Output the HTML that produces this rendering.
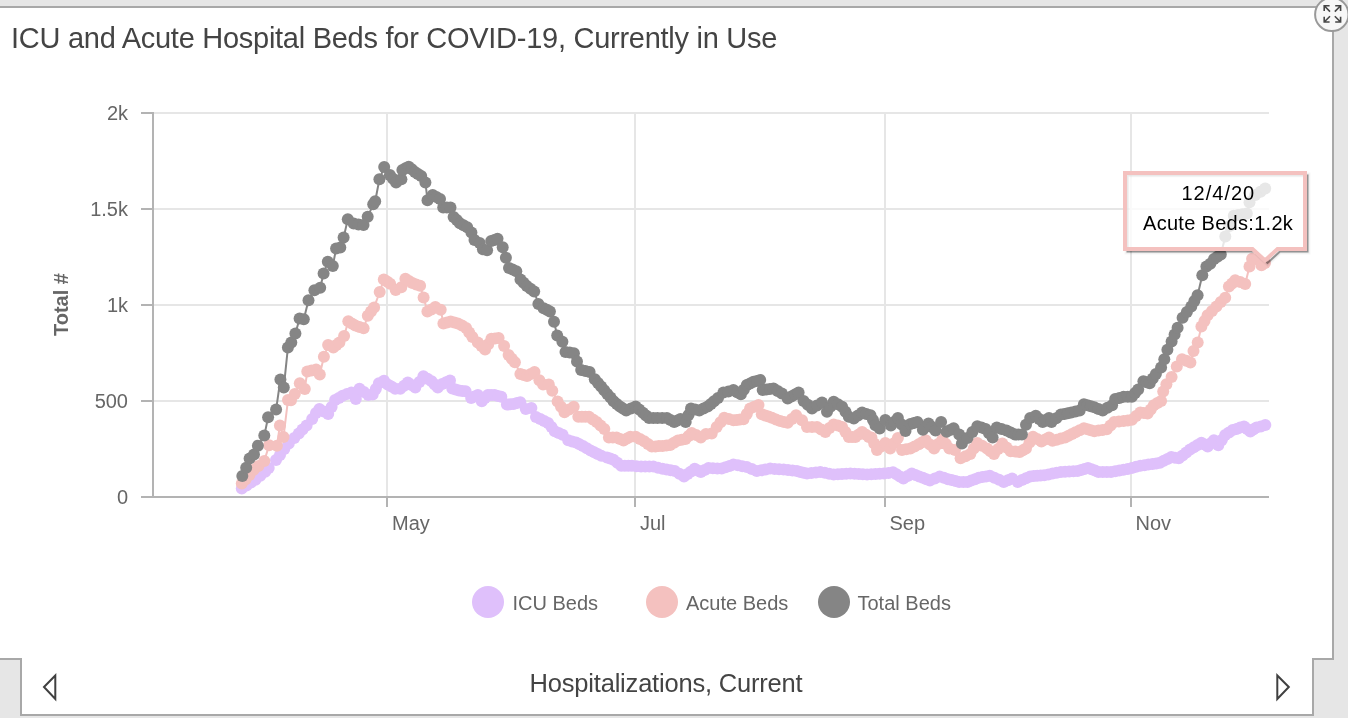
<!DOCTYPE html>
<html><head><meta charset="utf-8">
<style>
html,body{margin:0;padding:0;}
body{width:1348px;height:718px;overflow:hidden;background:#e6e6e6;position:relative;font-family:"Liberation Sans",sans-serif;}
#card{position:absolute;left:-2px;top:6px;width:1336px;height:654px;box-sizing:border-box;border:2px solid #a8a8a8;background:#fff;}
#foot{position:absolute;left:20px;top:658px;width:1294px;height:58px;box-sizing:border-box;border:2px solid #a8a8a8;border-top:none;background:#fff;}
#title{position:absolute;left:10.5px;top:18px;font-size:29px;letter-spacing:-0.27px;color:#444;white-space:nowrap;line-height:40px;}
#ftext{position:absolute;left:-2px;width:1336px;text-align:center;top:667px;font-size:25.5px;letter-spacing:-0.2px;color:#444;line-height:32px;white-space:nowrap;}
svg{position:absolute;left:0;top:0;}
#title,#ftext,svg{will-change:transform;}
</style></head><body>
<div id="card"></div>
<div id="foot"></div>
<div id="title">ICU and Acute Hospital Beds for COVID-19, Currently in Use</div>
<div id="ftext">Hospitalizations, Current</div>
<svg width="1348" height="718" viewBox="0 0 1348 718">
<g stroke="#e6e6e6" stroke-width="2"><line x1="153.0" y1="113.0" x2="1269.0" y2="113.0"/><line x1="153.0" y1="209.0" x2="1269.0" y2="209.0"/><line x1="153.0" y1="305.0" x2="1269.0" y2="305.0"/><line x1="153.0" y1="401.0" x2="1269.0" y2="401.0"/><line x1="387.0" y1="112" x2="387.0" y2="497.0"/><line x1="635.0" y1="112" x2="635.0" y2="497.0"/><line x1="885.0" y1="112" x2="885.0" y2="497.0"/><line x1="1131.0" y1="112" x2="1131.0" y2="497.0"/></g>
<g stroke="#b3b3b3" stroke-width="2"><line x1="153.0" y1="112" x2="153.0" y2="498.0"/><line x1="141" y1="497.0" x2="1269.0" y2="497.0"/><line x1="141" y1="113.0" x2="153.0" y2="113.0"/><line x1="141" y1="209.0" x2="153.0" y2="209.0"/><line x1="141" y1="305.0" x2="153.0" y2="305.0"/><line x1="141" y1="401.0" x2="153.0" y2="401.0"/><line x1="387.0" y1="497.0" x2="387.0" y2="507"/><line x1="635.0" y1="497.0" x2="635.0" y2="507"/><line x1="885.0" y1="497.0" x2="885.0" y2="507"/><line x1="1131.0" y1="497.0" x2="1131.0" y2="507"/></g>
<g font-family="Liberation Sans, sans-serif" font-size="20" fill="#666666"><text x="128" y="120.2" text-anchor="end">2k</text><text x="128" y="216.2" text-anchor="end">1.5k</text><text x="128" y="312.2" text-anchor="end">1k</text><text x="128" y="408.2" text-anchor="end">500</text><text x="128" y="504.2" text-anchor="end">0</text><text x="392" y="529.8">May</text><text x="640" y="529.8">Jul</text><text x="889.5" y="529.8">Sep</text><text x="1135.5" y="529.8">Nov</text></g>
<text transform="translate(67.8,304.5) rotate(-90)" text-anchor="middle" font-family="Liberation Sans, sans-serif" font-size="20" font-weight="bold" fill="#666666">Total #</text>

<g font-family="Liberation Sans, sans-serif" font-size="20" fill="#666666">
<circle cx="488" cy="602" r="16" fill="#dfc0fb"/>
<text x="512.5" y="609.9">ICU Beds</text>
<circle cx="662" cy="602" r="16" fill="#f4c1bf"/>
<text x="686" y="609.9">Acute Beds</text>
<circle cx="834" cy="602" r="16" fill="#858585"/>
<text x="857.5" y="609.9">Total Beds</text>
</g>
<path d="M241.8 488.5 L246.5 485.5 L251.0 482.5 L255.5 479.8 L260.3 475.8 L265.2 471.7 L268.7 468.0 L276.0 460.0 L280.0 455.0 L284.3 449.1 L288.8 443.5 L294.3 437.9 L298.8 433.5 L302.5 429.5 L306.6 425.6 L312.2 419.0 L316.0 413.0 L319.4 408.9 L323.8 411.4 L328.2 413.9 L331.6 407.0 L335.1 400.1 L338.9 397.9 L342.6 395.7 L347.0 394.1 L351.4 392.6 L355.8 398.9 L359.5 388.8 L363.9 392.0 L368.3 395.1 L372.7 394.5 L375.8 388.9 L378.9 383.2 L384.0 380.7 L387.7 384.5 L391.4 386.6 L395.2 388.8 L400.3 388.8 L404.1 385.7 L407.8 382.6 L411.6 385.1 L415.3 387.6 L419.4 382.0 L423.4 376.3 L427.5 378.8 L431.6 381.3 L434.7 384.5 L437.8 387.6 L442.2 383.9 L446.1 382.2 L450.0 380.6 L452.3 388.4 L455.6 389.5 L459.0 390.6 L462.3 390.9 L465.6 391.2 L471.2 397.9 L474.5 396.5 L477.9 395.1 L481.8 401.2 L484.9 398.1 L487.9 395.1 L491.2 395.1 L494.6 395.1 L498.0 396.0 L501.3 396.8 L506.9 404.6 L510.2 404.3 L513.6 404.0 L517.0 403.1 L520.3 402.3 L525.8 409.0 L531.4 408.0 L536.0 417.0 L540.3 419.0 L544.2 420.9 L548.1 422.9 L551.5 427.1 L554.8 431.3 L558.7 433.0 L562.6 434.7 L568.2 440.2 L572.1 441.4 L576.0 442.5 L579.5 444.2 L583.0 446.0 L586.8 448.2 L590.6 450.5 L594.2 452.3 L597.7 454.0 L601.3 455.8 L607.0 457.5 L610.2 458.6 L613.5 459.7 L617.4 462.8 L621.2 465.8 L624.8 465.8 L628.3 465.8 L631.9 465.8 L636.5 466.2 L641.1 466.6 L645.2 466.6 L649.3 466.6 L653.4 466.6 L658.0 467.7 L662.5 468.8 L666.6 469.6 L670.7 470.3 L674.8 471.1 L679.4 473.8 L684.0 476.5 L687.6 473.9 L691.1 471.4 L694.7 468.8 L697.8 470.4 L700.8 471.9 L704.6 470.0 L708.5 468.1 L712.9 468.3 L717.3 468.4 L721.7 468.6 L725.6 467.2 L729.5 465.9 L733.4 464.5 L737.9 465.3 L742.3 466.2 L746.8 467.0 L751.8 469.1 L756.8 471.1 L761.3 470.3 L765.7 469.4 L770.2 468.6 L774.7 468.9 L779.1 469.2 L783.6 469.5 L788.0 470.0 L792.5 470.6 L796.9 471.1 L800.3 471.9 L803.6 472.8 L807.0 473.6 L811.4 473.1 L815.9 472.5 L820.3 472.0 L824.8 472.8 L829.2 473.7 L833.7 474.5 L837.9 474.3 L842.0 474.1 L846.2 473.8 L850.4 473.6 L854.6 473.8 L858.8 474.1 L862.9 474.3 L867.1 474.5 L871.3 474.3 L875.5 474.1 L879.7 473.8 L883.9 473.6 L888.5 472.9 L893.0 472.2 L896.5 474.3 L899.9 476.4 L903.4 478.5 L907.6 476.1 L911.8 473.6 L915.5 475.0 L919.2 476.4 L922.9 477.8 L926.4 479.2 L929.9 480.6 L934.8 478.5 L939.7 476.4 L943.9 477.8 L948.0 479.2 L951.7 480.1 L955.5 481.0 L959.2 481.9 L963.4 481.9 L967.5 481.9 L971.2 480.5 L975.0 479.2 L978.7 477.8 L982.4 477.1 L986.1 476.4 L989.8 475.7 L994.4 477.8 L999.1 479.8 L1003.7 481.9 L1007.9 480.2 L1012.1 478.5 L1017.7 481.9 L1021.9 480.1 L1026.0 478.2 L1030.2 476.4 L1033.7 476.0 L1037.2 475.7 L1040.7 475.4 L1044.2 475.2 L1048.4 474.4 L1052.6 473.6 L1056.7 472.8 L1060.9 472.0 L1065.1 471.8 L1069.2 471.5 L1073.4 471.2 L1077.6 471.0 L1081.1 470.0 L1084.5 468.9 L1088.0 467.9 L1091.5 469.3 L1095.0 470.6 L1098.5 472.0 L1102.7 472.0 L1106.8 472.0 L1111.0 472.0 L1115.2 471.2 L1119.3 470.4 L1123.5 469.7 L1127.7 468.9 L1131.9 467.9 L1136.1 466.8 L1140.3 465.8 L1144.4 465.2 L1148.4 464.6 L1152.5 464.0 L1156.2 463.4 L1160.0 462.7 L1163.8 460.8 L1167.5 459.0 L1171.3 457.1 L1175.0 457.7 L1178.8 458.3 L1182.6 455.4 L1186.3 452.5 L1190.1 449.6 L1193.9 447.3 L1197.6 445.0 L1201.4 442.7 L1204.6 444.5 L1207.7 446.4 L1210.8 443.3 L1213.9 440.2 L1218.3 445.2 L1221.8 440.1 L1225.2 435.1 L1229.0 432.6 L1232.7 430.1 L1236.5 428.9 L1240.2 427.6 L1244.0 426.4 L1247.2 428.9 L1250.3 431.4 L1253.4 429.5 L1256.5 427.6 L1260.9 426.4 L1265.3 425.1" fill="none" stroke="#dfc0fb" stroke-width="2" stroke-linejoin="round"/>
<g fill="#dfc0fb">
<circle cx="241.8" cy="488.5" r="6.0"/>
<circle cx="246.5" cy="485.5" r="6.0"/>
<circle cx="251.0" cy="482.5" r="6.0"/>
<circle cx="255.5" cy="479.8" r="6.0"/>
<circle cx="260.3" cy="475.8" r="6.0"/>
<circle cx="265.2" cy="471.7" r="6.0"/>
<circle cx="268.7" cy="468.0" r="6.0"/>
<circle cx="276.0" cy="460.0" r="6.0"/>
<circle cx="280.0" cy="455.0" r="6.0"/>
<circle cx="284.3" cy="449.1" r="6.0"/>
<circle cx="288.8" cy="443.5" r="6.0"/>
<circle cx="294.3" cy="437.9" r="6.0"/>
<circle cx="298.8" cy="433.5" r="6.0"/>
<circle cx="302.5" cy="429.5" r="6.0"/>
<circle cx="306.6" cy="425.6" r="6.0"/>
<circle cx="312.2" cy="419.0" r="6.0"/>
<circle cx="316.0" cy="413.0" r="6.0"/>
<circle cx="319.4" cy="408.9" r="6.0"/>
<circle cx="323.8" cy="411.4" r="6.0"/>
<circle cx="328.2" cy="413.9" r="6.0"/>
<circle cx="331.6" cy="407.0" r="6.0"/>
<circle cx="335.1" cy="400.1" r="6.0"/>
<circle cx="338.9" cy="397.9" r="6.0"/>
<circle cx="342.6" cy="395.7" r="6.0"/>
<circle cx="347.0" cy="394.1" r="6.0"/>
<circle cx="351.4" cy="392.6" r="6.0"/>
<circle cx="355.8" cy="398.9" r="6.0"/>
<circle cx="359.5" cy="388.8" r="6.0"/>
<circle cx="363.9" cy="392.0" r="6.0"/>
<circle cx="368.3" cy="395.1" r="6.0"/>
<circle cx="372.7" cy="394.5" r="6.0"/>
<circle cx="375.8" cy="388.9" r="6.0"/>
<circle cx="378.9" cy="383.2" r="6.0"/>
<circle cx="384.0" cy="380.7" r="6.0"/>
<circle cx="387.7" cy="384.5" r="6.0"/>
<circle cx="391.4" cy="386.6" r="6.0"/>
<circle cx="395.2" cy="388.8" r="6.0"/>
<circle cx="400.3" cy="388.8" r="6.0"/>
<circle cx="404.1" cy="385.7" r="6.0"/>
<circle cx="407.8" cy="382.6" r="6.0"/>
<circle cx="411.6" cy="385.1" r="6.0"/>
<circle cx="415.3" cy="387.6" r="6.0"/>
<circle cx="419.4" cy="382.0" r="6.0"/>
<circle cx="423.4" cy="376.3" r="6.0"/>
<circle cx="427.5" cy="378.8" r="6.0"/>
<circle cx="431.6" cy="381.3" r="6.0"/>
<circle cx="434.7" cy="384.5" r="6.0"/>
<circle cx="437.8" cy="387.6" r="6.0"/>
<circle cx="442.2" cy="383.9" r="6.0"/>
<circle cx="446.1" cy="382.2" r="6.0"/>
<circle cx="450.0" cy="380.6" r="6.0"/>
<circle cx="452.3" cy="388.4" r="6.0"/>
<circle cx="455.6" cy="389.5" r="6.0"/>
<circle cx="459.0" cy="390.6" r="6.0"/>
<circle cx="462.3" cy="390.9" r="6.0"/>
<circle cx="465.6" cy="391.2" r="6.0"/>
<circle cx="471.2" cy="397.9" r="6.0"/>
<circle cx="474.5" cy="396.5" r="6.0"/>
<circle cx="477.9" cy="395.1" r="6.0"/>
<circle cx="481.8" cy="401.2" r="6.0"/>
<circle cx="484.9" cy="398.1" r="6.0"/>
<circle cx="487.9" cy="395.1" r="6.0"/>
<circle cx="491.2" cy="395.1" r="6.0"/>
<circle cx="494.6" cy="395.1" r="6.0"/>
<circle cx="498.0" cy="396.0" r="6.0"/>
<circle cx="501.3" cy="396.8" r="6.0"/>
<circle cx="506.9" cy="404.6" r="6.0"/>
<circle cx="510.2" cy="404.3" r="6.0"/>
<circle cx="513.6" cy="404.0" r="6.0"/>
<circle cx="517.0" cy="403.1" r="6.0"/>
<circle cx="520.3" cy="402.3" r="6.0"/>
<circle cx="525.8" cy="409.0" r="6.0"/>
<circle cx="531.4" cy="408.0" r="6.0"/>
<circle cx="536.0" cy="417.0" r="6.0"/>
<circle cx="540.3" cy="419.0" r="6.0"/>
<circle cx="544.2" cy="420.9" r="6.0"/>
<circle cx="548.1" cy="422.9" r="6.0"/>
<circle cx="551.5" cy="427.1" r="6.0"/>
<circle cx="554.8" cy="431.3" r="6.0"/>
<circle cx="558.7" cy="433.0" r="6.0"/>
<circle cx="562.6" cy="434.7" r="6.0"/>
<circle cx="568.2" cy="440.2" r="6.0"/>
<circle cx="572.1" cy="441.4" r="6.0"/>
<circle cx="576.0" cy="442.5" r="6.0"/>
<circle cx="579.5" cy="444.2" r="6.0"/>
<circle cx="583.0" cy="446.0" r="6.0"/>
<circle cx="586.8" cy="448.2" r="6.0"/>
<circle cx="590.6" cy="450.5" r="6.0"/>
<circle cx="594.2" cy="452.3" r="6.0"/>
<circle cx="597.7" cy="454.0" r="6.0"/>
<circle cx="601.3" cy="455.8" r="6.0"/>
<circle cx="607.0" cy="457.5" r="6.0"/>
<circle cx="610.2" cy="458.6" r="6.0"/>
<circle cx="613.5" cy="459.7" r="6.0"/>
<circle cx="617.4" cy="462.8" r="6.0"/>
<circle cx="621.2" cy="465.8" r="6.0"/>
<circle cx="624.8" cy="465.8" r="6.0"/>
<circle cx="628.3" cy="465.8" r="6.0"/>
<circle cx="631.9" cy="465.8" r="6.0"/>
<circle cx="636.5" cy="466.2" r="6.0"/>
<circle cx="641.1" cy="466.6" r="6.0"/>
<circle cx="645.2" cy="466.6" r="6.0"/>
<circle cx="649.3" cy="466.6" r="6.0"/>
<circle cx="653.4" cy="466.6" r="6.0"/>
<circle cx="658.0" cy="467.7" r="6.0"/>
<circle cx="662.5" cy="468.8" r="6.0"/>
<circle cx="666.6" cy="469.6" r="6.0"/>
<circle cx="670.7" cy="470.3" r="6.0"/>
<circle cx="674.8" cy="471.1" r="6.0"/>
<circle cx="679.4" cy="473.8" r="6.0"/>
<circle cx="684.0" cy="476.5" r="6.0"/>
<circle cx="687.6" cy="473.9" r="6.0"/>
<circle cx="691.1" cy="471.4" r="6.0"/>
<circle cx="694.7" cy="468.8" r="6.0"/>
<circle cx="697.8" cy="470.4" r="6.0"/>
<circle cx="700.8" cy="471.9" r="6.0"/>
<circle cx="704.6" cy="470.0" r="6.0"/>
<circle cx="708.5" cy="468.1" r="6.0"/>
<circle cx="712.9" cy="468.3" r="6.0"/>
<circle cx="717.3" cy="468.4" r="6.0"/>
<circle cx="721.7" cy="468.6" r="6.0"/>
<circle cx="725.6" cy="467.2" r="6.0"/>
<circle cx="729.5" cy="465.9" r="6.0"/>
<circle cx="733.4" cy="464.5" r="6.0"/>
<circle cx="737.9" cy="465.3" r="6.0"/>
<circle cx="742.3" cy="466.2" r="6.0"/>
<circle cx="746.8" cy="467.0" r="6.0"/>
<circle cx="751.8" cy="469.1" r="6.0"/>
<circle cx="756.8" cy="471.1" r="6.0"/>
<circle cx="761.3" cy="470.3" r="6.0"/>
<circle cx="765.7" cy="469.4" r="6.0"/>
<circle cx="770.2" cy="468.6" r="6.0"/>
<circle cx="774.7" cy="468.9" r="6.0"/>
<circle cx="779.1" cy="469.2" r="6.0"/>
<circle cx="783.6" cy="469.5" r="6.0"/>
<circle cx="788.0" cy="470.0" r="6.0"/>
<circle cx="792.5" cy="470.6" r="6.0"/>
<circle cx="796.9" cy="471.1" r="6.0"/>
<circle cx="800.3" cy="471.9" r="6.0"/>
<circle cx="803.6" cy="472.8" r="6.0"/>
<circle cx="807.0" cy="473.6" r="6.0"/>
<circle cx="811.4" cy="473.1" r="6.0"/>
<circle cx="815.9" cy="472.5" r="6.0"/>
<circle cx="820.3" cy="472.0" r="6.0"/>
<circle cx="824.8" cy="472.8" r="6.0"/>
<circle cx="829.2" cy="473.7" r="6.0"/>
<circle cx="833.7" cy="474.5" r="6.0"/>
<circle cx="837.9" cy="474.3" r="6.0"/>
<circle cx="842.0" cy="474.1" r="6.0"/>
<circle cx="846.2" cy="473.8" r="6.0"/>
<circle cx="850.4" cy="473.6" r="6.0"/>
<circle cx="854.6" cy="473.8" r="6.0"/>
<circle cx="858.8" cy="474.1" r="6.0"/>
<circle cx="862.9" cy="474.3" r="6.0"/>
<circle cx="867.1" cy="474.5" r="6.0"/>
<circle cx="871.3" cy="474.3" r="6.0"/>
<circle cx="875.5" cy="474.1" r="6.0"/>
<circle cx="879.7" cy="473.8" r="6.0"/>
<circle cx="883.9" cy="473.6" r="6.0"/>
<circle cx="888.5" cy="472.9" r="6.0"/>
<circle cx="893.0" cy="472.2" r="6.0"/>
<circle cx="896.5" cy="474.3" r="6.0"/>
<circle cx="899.9" cy="476.4" r="6.0"/>
<circle cx="903.4" cy="478.5" r="6.0"/>
<circle cx="907.6" cy="476.1" r="6.0"/>
<circle cx="911.8" cy="473.6" r="6.0"/>
<circle cx="915.5" cy="475.0" r="6.0"/>
<circle cx="919.2" cy="476.4" r="6.0"/>
<circle cx="922.9" cy="477.8" r="6.0"/>
<circle cx="926.4" cy="479.2" r="6.0"/>
<circle cx="929.9" cy="480.6" r="6.0"/>
<circle cx="934.8" cy="478.5" r="6.0"/>
<circle cx="939.7" cy="476.4" r="6.0"/>
<circle cx="943.9" cy="477.8" r="6.0"/>
<circle cx="948.0" cy="479.2" r="6.0"/>
<circle cx="951.7" cy="480.1" r="6.0"/>
<circle cx="955.5" cy="481.0" r="6.0"/>
<circle cx="959.2" cy="481.9" r="6.0"/>
<circle cx="963.4" cy="481.9" r="6.0"/>
<circle cx="967.5" cy="481.9" r="6.0"/>
<circle cx="971.2" cy="480.5" r="6.0"/>
<circle cx="975.0" cy="479.2" r="6.0"/>
<circle cx="978.7" cy="477.8" r="6.0"/>
<circle cx="982.4" cy="477.1" r="6.0"/>
<circle cx="986.1" cy="476.4" r="6.0"/>
<circle cx="989.8" cy="475.7" r="6.0"/>
<circle cx="994.4" cy="477.8" r="6.0"/>
<circle cx="999.1" cy="479.8" r="6.0"/>
<circle cx="1003.7" cy="481.9" r="6.0"/>
<circle cx="1007.9" cy="480.2" r="6.0"/>
<circle cx="1012.1" cy="478.5" r="6.0"/>
<circle cx="1017.7" cy="481.9" r="6.0"/>
<circle cx="1021.9" cy="480.1" r="6.0"/>
<circle cx="1026.0" cy="478.2" r="6.0"/>
<circle cx="1030.2" cy="476.4" r="6.0"/>
<circle cx="1033.7" cy="476.0" r="6.0"/>
<circle cx="1037.2" cy="475.7" r="6.0"/>
<circle cx="1040.7" cy="475.4" r="6.0"/>
<circle cx="1044.2" cy="475.2" r="6.0"/>
<circle cx="1048.4" cy="474.4" r="6.0"/>
<circle cx="1052.6" cy="473.6" r="6.0"/>
<circle cx="1056.7" cy="472.8" r="6.0"/>
<circle cx="1060.9" cy="472.0" r="6.0"/>
<circle cx="1065.1" cy="471.8" r="6.0"/>
<circle cx="1069.2" cy="471.5" r="6.0"/>
<circle cx="1073.4" cy="471.2" r="6.0"/>
<circle cx="1077.6" cy="471.0" r="6.0"/>
<circle cx="1081.1" cy="470.0" r="6.0"/>
<circle cx="1084.5" cy="468.9" r="6.0"/>
<circle cx="1088.0" cy="467.9" r="6.0"/>
<circle cx="1091.5" cy="469.3" r="6.0"/>
<circle cx="1095.0" cy="470.6" r="6.0"/>
<circle cx="1098.5" cy="472.0" r="6.0"/>
<circle cx="1102.7" cy="472.0" r="6.0"/>
<circle cx="1106.8" cy="472.0" r="6.0"/>
<circle cx="1111.0" cy="472.0" r="6.0"/>
<circle cx="1115.2" cy="471.2" r="6.0"/>
<circle cx="1119.3" cy="470.4" r="6.0"/>
<circle cx="1123.5" cy="469.7" r="6.0"/>
<circle cx="1127.7" cy="468.9" r="6.0"/>
<circle cx="1131.9" cy="467.9" r="6.0"/>
<circle cx="1136.1" cy="466.8" r="6.0"/>
<circle cx="1140.3" cy="465.8" r="6.0"/>
<circle cx="1144.4" cy="465.2" r="6.0"/>
<circle cx="1148.4" cy="464.6" r="6.0"/>
<circle cx="1152.5" cy="464.0" r="6.0"/>
<circle cx="1156.2" cy="463.4" r="6.0"/>
<circle cx="1160.0" cy="462.7" r="6.0"/>
<circle cx="1163.8" cy="460.8" r="6.0"/>
<circle cx="1167.5" cy="459.0" r="6.0"/>
<circle cx="1171.3" cy="457.1" r="6.0"/>
<circle cx="1175.0" cy="457.7" r="6.0"/>
<circle cx="1178.8" cy="458.3" r="6.0"/>
<circle cx="1182.6" cy="455.4" r="6.0"/>
<circle cx="1186.3" cy="452.5" r="6.0"/>
<circle cx="1190.1" cy="449.6" r="6.0"/>
<circle cx="1193.9" cy="447.3" r="6.0"/>
<circle cx="1197.6" cy="445.0" r="6.0"/>
<circle cx="1201.4" cy="442.7" r="6.0"/>
<circle cx="1204.6" cy="444.5" r="6.0"/>
<circle cx="1207.7" cy="446.4" r="6.0"/>
<circle cx="1210.8" cy="443.3" r="6.0"/>
<circle cx="1213.9" cy="440.2" r="6.0"/>
<circle cx="1218.3" cy="445.2" r="6.0"/>
<circle cx="1221.8" cy="440.1" r="6.0"/>
<circle cx="1225.2" cy="435.1" r="6.0"/>
<circle cx="1229.0" cy="432.6" r="6.0"/>
<circle cx="1232.7" cy="430.1" r="6.0"/>
<circle cx="1236.5" cy="428.9" r="6.0"/>
<circle cx="1240.2" cy="427.6" r="6.0"/>
<circle cx="1244.0" cy="426.4" r="6.0"/>
<circle cx="1247.2" cy="428.9" r="6.0"/>
<circle cx="1250.3" cy="431.4" r="6.0"/>
<circle cx="1253.4" cy="429.5" r="6.0"/>
<circle cx="1256.5" cy="427.6" r="6.0"/>
<circle cx="1260.9" cy="426.4" r="6.0"/>
<circle cx="1265.3" cy="425.1" r="6.0"/>
</g>
<path d="M241.8 483.4 L245.5 479.5 L249.5 475.0 L253.7 469.7 L258.5 466.0 L264.3 460.9 L269.1 445.3 L276.9 445.8 L279.9 425.4 L283.5 437.0 L288.0 399.9 L291.0 400.2 L294.8 393.9 L299.8 383.3 L304.8 388.9 L307.3 371.4 L311.5 370.5 L316.1 369.5 L319.8 374.5 L323.9 356.8 L328.1 345.0 L333.3 347.5 L336.4 345.0 L339.4 342.5 L344.1 335.9 L348.3 321.3 L351.8 323.4 L355.3 325.5 L359.5 326.9 L363.6 328.3 L367.8 315.7 L371.0 311.5 L374.1 307.4 L379.7 292.0 L383.8 279.5 L387.0 281.6 L390.1 283.7 L395.7 290.0 L401.3 287.2 L405.4 278.8 L408.9 280.9 L412.4 283.0 L416.2 284.4 L420.1 285.8 L423.6 297.6 L427.4 311.6 L431.4 309.4 L435.3 307.1 L440.7 309.8 L443.4 323.4 L447.0 322.5 L450.7 321.6 L454.3 322.5 L457.9 323.4 L462.0 325.6 L466.1 327.9 L469.2 332.4 L472.4 337.0 L477.8 342.4 L481.5 346.0 L485.1 349.6 L488.2 344.2 L491.4 338.8 L495.0 338.4 L498.6 337.9 L504.1 346.0 L508.6 355.1 L511.8 358.7 L514.9 362.3 L520.4 374.0 L523.7 375.0 L527.0 376.0 L530.8 374.0 L534.5 372.0 L539.4 380.3 L543.1 384.6 L548.8 384.5 L552.3 390.7 L557.6 401.4 L561.0 406.8 L564.5 412.2 L569.1 409.5 L573.7 406.8 L578.3 416.8 L581.9 416.8 L585.4 416.8 L589.0 416.8 L592.9 419.5 L596.7 422.1 L600.5 425.6 L604.3 429.0 L608.9 437.4 L612.8 437.4 L616.6 437.4 L620.0 438.9 L623.5 440.5 L627.0 438.6 L630.4 436.7 L635.7 436.7 L640.0 439.0 L644.2 441.3 L648.0 444.0 L651.8 446.6 L655.4 446.4 L658.9 446.1 L662.5 445.9 L666.4 445.5 L670.2 445.1 L674.0 442.8 L677.9 440.5 L681.7 439.8 L685.5 439.0 L688.6 435.9 L691.7 432.9 L696.2 435.1 L700.8 437.4 L706.0 434.0 L711.7 433.5 L716.7 426.9 L720.5 422.3 L724.2 417.7 L728.8 418.9 L733.4 420.2 L736.8 419.9 L740.1 419.6 L743.5 419.3 L746.8 413.9 L750.1 408.5 L754.3 406.8 L758.5 405.1 L761.8 414.3 L765.2 415.4 L768.5 416.6 L771.9 417.7 L776.0 419.4 L780.2 421.0 L784.0 421.9 L787.7 422.7 L791.9 418.9 L796.1 415.2 L802.0 420.2 L807.0 426.9 L812.0 426.9 L817.0 426.9 L821.2 429.4 L825.4 431.9 L829.5 428.1 L833.7 424.4 L837.9 425.6 L842.1 426.9 L845.5 431.9 L848.8 436.9 L852.1 436.9 L855.4 436.9 L858.8 434.4 L862.1 431.9 L865.5 434.4 L868.8 436.9 L871.4 437.4 L874.2 443.5 L877.0 449.9 L881.1 446.4 L885.3 442.9 L890.2 448.5 L894.0 443.3 L897.9 438.1 L902.0 449.9 L906.2 449.2 L910.4 448.5 L914.6 446.4 L918.8 444.3 L922.2 442.2 L925.7 440.2 L929.9 444.4 L934.1 448.5 L938.2 444.0 L942.4 439.5 L945.9 444.0 L949.4 448.5 L955.0 449.9 L960.6 458.3 L965.5 456.2 L970.3 454.1 L973.8 448.5 L977.3 442.9 L982.1 445.7 L987.0 448.5 L990.5 451.3 L994.0 454.1 L998.1 448.9 L1002.3 443.6 L1006.5 447.5 L1010.7 451.3 L1015.2 451.6 L1019.8 452.0 L1022.9 450.2 L1026.0 448.5 L1029.5 442.6 L1033.0 436.7 L1037.2 439.1 L1041.4 441.5 L1045.2 439.4 L1049.0 437.4 L1052.5 440.7 L1056.7 439.7 L1060.9 438.6 L1065.1 437.6 L1068.6 435.8 L1072.0 434.1 L1075.5 432.3 L1079.7 430.2 L1083.9 428.2 L1087.4 429.2 L1090.8 430.3 L1094.3 431.3 L1098.5 430.6 L1102.6 429.9 L1106.8 429.2 L1110.5 425.5 L1114.2 421.9 L1118.9 421.4 L1123.6 420.9 L1127.8 420.4 L1131.9 419.8 L1136.1 416.1 L1140.3 412.5 L1143.9 413.1 L1147.6 413.6 L1150.7 409.4 L1153.8 405.2 L1157.4 403.1 L1161.1 401.0 L1163.2 391.6 L1166.4 384.3 L1171.6 377.0 L1176.8 366.6 L1182.0 359.2 L1186.2 360.8 L1190.4 362.4 L1193.5 350.9 L1197.7 342.5 L1201.4 326.6 L1204.5 321.0 L1207.6 315.3 L1212.0 310.9 L1216.4 306.5 L1220.8 302.1 L1225.2 297.8 L1228.9 286.5 L1232.1 283.4 L1235.2 280.2 L1240.2 282.1 L1245.2 284.0 L1249.5 266.5 L1252.1 258.7 L1257.7 259.5 L1261.5 265.3 L1265.0 263.0" fill="none" stroke="#f4c1bf" stroke-width="2" stroke-linejoin="round"/>
<g fill="#f4c1bf">
<circle cx="241.8" cy="483.4" r="6.0"/>
<circle cx="245.5" cy="479.5" r="6.0"/>
<circle cx="249.5" cy="475.0" r="6.0"/>
<circle cx="253.7" cy="469.7" r="6.0"/>
<circle cx="258.5" cy="466.0" r="6.0"/>
<circle cx="264.3" cy="460.9" r="6.0"/>
<circle cx="269.1" cy="445.3" r="6.0"/>
<circle cx="276.9" cy="445.8" r="6.0"/>
<circle cx="279.9" cy="425.4" r="6.0"/>
<circle cx="283.5" cy="437.0" r="6.0"/>
<circle cx="288.0" cy="399.9" r="6.0"/>
<circle cx="291.0" cy="400.2" r="6.0"/>
<circle cx="294.8" cy="393.9" r="6.0"/>
<circle cx="299.8" cy="383.3" r="6.0"/>
<circle cx="304.8" cy="388.9" r="6.0"/>
<circle cx="307.3" cy="371.4" r="6.0"/>
<circle cx="311.5" cy="370.5" r="6.0"/>
<circle cx="316.1" cy="369.5" r="6.0"/>
<circle cx="319.8" cy="374.5" r="6.0"/>
<circle cx="323.9" cy="356.8" r="6.0"/>
<circle cx="328.1" cy="345.0" r="6.0"/>
<circle cx="333.3" cy="347.5" r="6.0"/>
<circle cx="336.4" cy="345.0" r="6.0"/>
<circle cx="339.4" cy="342.5" r="6.0"/>
<circle cx="344.1" cy="335.9" r="6.0"/>
<circle cx="348.3" cy="321.3" r="6.0"/>
<circle cx="351.8" cy="323.4" r="6.0"/>
<circle cx="355.3" cy="325.5" r="6.0"/>
<circle cx="359.5" cy="326.9" r="6.0"/>
<circle cx="363.6" cy="328.3" r="6.0"/>
<circle cx="367.8" cy="315.7" r="6.0"/>
<circle cx="371.0" cy="311.5" r="6.0"/>
<circle cx="374.1" cy="307.4" r="6.0"/>
<circle cx="379.7" cy="292.0" r="6.0"/>
<circle cx="383.8" cy="279.5" r="6.0"/>
<circle cx="387.0" cy="281.6" r="6.0"/>
<circle cx="390.1" cy="283.7" r="6.0"/>
<circle cx="395.7" cy="290.0" r="6.0"/>
<circle cx="401.3" cy="287.2" r="6.0"/>
<circle cx="405.4" cy="278.8" r="6.0"/>
<circle cx="408.9" cy="280.9" r="6.0"/>
<circle cx="412.4" cy="283.0" r="6.0"/>
<circle cx="416.2" cy="284.4" r="6.0"/>
<circle cx="420.1" cy="285.8" r="6.0"/>
<circle cx="423.6" cy="297.6" r="6.0"/>
<circle cx="427.4" cy="311.6" r="6.0"/>
<circle cx="431.4" cy="309.4" r="6.0"/>
<circle cx="435.3" cy="307.1" r="6.0"/>
<circle cx="440.7" cy="309.8" r="6.0"/>
<circle cx="443.4" cy="323.4" r="6.0"/>
<circle cx="447.0" cy="322.5" r="6.0"/>
<circle cx="450.7" cy="321.6" r="6.0"/>
<circle cx="454.3" cy="322.5" r="6.0"/>
<circle cx="457.9" cy="323.4" r="6.0"/>
<circle cx="462.0" cy="325.6" r="6.0"/>
<circle cx="466.1" cy="327.9" r="6.0"/>
<circle cx="469.2" cy="332.4" r="6.0"/>
<circle cx="472.4" cy="337.0" r="6.0"/>
<circle cx="477.8" cy="342.4" r="6.0"/>
<circle cx="481.5" cy="346.0" r="6.0"/>
<circle cx="485.1" cy="349.6" r="6.0"/>
<circle cx="488.2" cy="344.2" r="6.0"/>
<circle cx="491.4" cy="338.8" r="6.0"/>
<circle cx="495.0" cy="338.4" r="6.0"/>
<circle cx="498.6" cy="337.9" r="6.0"/>
<circle cx="504.1" cy="346.0" r="6.0"/>
<circle cx="508.6" cy="355.1" r="6.0"/>
<circle cx="511.8" cy="358.7" r="6.0"/>
<circle cx="514.9" cy="362.3" r="6.0"/>
<circle cx="520.4" cy="374.0" r="6.0"/>
<circle cx="523.7" cy="375.0" r="6.0"/>
<circle cx="527.0" cy="376.0" r="6.0"/>
<circle cx="530.8" cy="374.0" r="6.0"/>
<circle cx="534.5" cy="372.0" r="6.0"/>
<circle cx="539.4" cy="380.3" r="6.0"/>
<circle cx="543.1" cy="384.6" r="6.0"/>
<circle cx="548.8" cy="384.5" r="6.0"/>
<circle cx="552.3" cy="390.7" r="6.0"/>
<circle cx="557.6" cy="401.4" r="6.0"/>
<circle cx="561.0" cy="406.8" r="6.0"/>
<circle cx="564.5" cy="412.2" r="6.0"/>
<circle cx="569.1" cy="409.5" r="6.0"/>
<circle cx="573.7" cy="406.8" r="6.0"/>
<circle cx="578.3" cy="416.8" r="6.0"/>
<circle cx="581.9" cy="416.8" r="6.0"/>
<circle cx="585.4" cy="416.8" r="6.0"/>
<circle cx="589.0" cy="416.8" r="6.0"/>
<circle cx="592.9" cy="419.5" r="6.0"/>
<circle cx="596.7" cy="422.1" r="6.0"/>
<circle cx="600.5" cy="425.6" r="6.0"/>
<circle cx="604.3" cy="429.0" r="6.0"/>
<circle cx="608.9" cy="437.4" r="6.0"/>
<circle cx="612.8" cy="437.4" r="6.0"/>
<circle cx="616.6" cy="437.4" r="6.0"/>
<circle cx="620.0" cy="438.9" r="6.0"/>
<circle cx="623.5" cy="440.5" r="6.0"/>
<circle cx="627.0" cy="438.6" r="6.0"/>
<circle cx="630.4" cy="436.7" r="6.0"/>
<circle cx="635.7" cy="436.7" r="6.0"/>
<circle cx="640.0" cy="439.0" r="6.0"/>
<circle cx="644.2" cy="441.3" r="6.0"/>
<circle cx="648.0" cy="444.0" r="6.0"/>
<circle cx="651.8" cy="446.6" r="6.0"/>
<circle cx="655.4" cy="446.4" r="6.0"/>
<circle cx="658.9" cy="446.1" r="6.0"/>
<circle cx="662.5" cy="445.9" r="6.0"/>
<circle cx="666.4" cy="445.5" r="6.0"/>
<circle cx="670.2" cy="445.1" r="6.0"/>
<circle cx="674.0" cy="442.8" r="6.0"/>
<circle cx="677.9" cy="440.5" r="6.0"/>
<circle cx="681.7" cy="439.8" r="6.0"/>
<circle cx="685.5" cy="439.0" r="6.0"/>
<circle cx="688.6" cy="435.9" r="6.0"/>
<circle cx="691.7" cy="432.9" r="6.0"/>
<circle cx="696.2" cy="435.1" r="6.0"/>
<circle cx="700.8" cy="437.4" r="6.0"/>
<circle cx="706.0" cy="434.0" r="6.0"/>
<circle cx="711.7" cy="433.5" r="6.0"/>
<circle cx="716.7" cy="426.9" r="6.0"/>
<circle cx="720.5" cy="422.3" r="6.0"/>
<circle cx="724.2" cy="417.7" r="6.0"/>
<circle cx="728.8" cy="418.9" r="6.0"/>
<circle cx="733.4" cy="420.2" r="6.0"/>
<circle cx="736.8" cy="419.9" r="6.0"/>
<circle cx="740.1" cy="419.6" r="6.0"/>
<circle cx="743.5" cy="419.3" r="6.0"/>
<circle cx="746.8" cy="413.9" r="6.0"/>
<circle cx="750.1" cy="408.5" r="6.0"/>
<circle cx="754.3" cy="406.8" r="6.0"/>
<circle cx="758.5" cy="405.1" r="6.0"/>
<circle cx="761.8" cy="414.3" r="6.0"/>
<circle cx="765.2" cy="415.4" r="6.0"/>
<circle cx="768.5" cy="416.6" r="6.0"/>
<circle cx="771.9" cy="417.7" r="6.0"/>
<circle cx="776.0" cy="419.4" r="6.0"/>
<circle cx="780.2" cy="421.0" r="6.0"/>
<circle cx="784.0" cy="421.9" r="6.0"/>
<circle cx="787.7" cy="422.7" r="6.0"/>
<circle cx="791.9" cy="418.9" r="6.0"/>
<circle cx="796.1" cy="415.2" r="6.0"/>
<circle cx="802.0" cy="420.2" r="6.0"/>
<circle cx="807.0" cy="426.9" r="6.0"/>
<circle cx="812.0" cy="426.9" r="6.0"/>
<circle cx="817.0" cy="426.9" r="6.0"/>
<circle cx="821.2" cy="429.4" r="6.0"/>
<circle cx="825.4" cy="431.9" r="6.0"/>
<circle cx="829.5" cy="428.1" r="6.0"/>
<circle cx="833.7" cy="424.4" r="6.0"/>
<circle cx="837.9" cy="425.6" r="6.0"/>
<circle cx="842.1" cy="426.9" r="6.0"/>
<circle cx="845.5" cy="431.9" r="6.0"/>
<circle cx="848.8" cy="436.9" r="6.0"/>
<circle cx="852.1" cy="436.9" r="6.0"/>
<circle cx="855.4" cy="436.9" r="6.0"/>
<circle cx="858.8" cy="434.4" r="6.0"/>
<circle cx="862.1" cy="431.9" r="6.0"/>
<circle cx="865.5" cy="434.4" r="6.0"/>
<circle cx="868.8" cy="436.9" r="6.0"/>
<circle cx="871.4" cy="437.4" r="6.0"/>
<circle cx="874.2" cy="443.5" r="6.0"/>
<circle cx="877.0" cy="449.9" r="6.0"/>
<circle cx="881.1" cy="446.4" r="6.0"/>
<circle cx="885.3" cy="442.9" r="6.0"/>
<circle cx="890.2" cy="448.5" r="6.0"/>
<circle cx="894.0" cy="443.3" r="6.0"/>
<circle cx="897.9" cy="438.1" r="6.0"/>
<circle cx="902.0" cy="449.9" r="6.0"/>
<circle cx="906.2" cy="449.2" r="6.0"/>
<circle cx="910.4" cy="448.5" r="6.0"/>
<circle cx="914.6" cy="446.4" r="6.0"/>
<circle cx="918.8" cy="444.3" r="6.0"/>
<circle cx="922.2" cy="442.2" r="6.0"/>
<circle cx="925.7" cy="440.2" r="6.0"/>
<circle cx="929.9" cy="444.4" r="6.0"/>
<circle cx="934.1" cy="448.5" r="6.0"/>
<circle cx="938.2" cy="444.0" r="6.0"/>
<circle cx="942.4" cy="439.5" r="6.0"/>
<circle cx="945.9" cy="444.0" r="6.0"/>
<circle cx="949.4" cy="448.5" r="6.0"/>
<circle cx="955.0" cy="449.9" r="6.0"/>
<circle cx="960.6" cy="458.3" r="6.0"/>
<circle cx="965.5" cy="456.2" r="6.0"/>
<circle cx="970.3" cy="454.1" r="6.0"/>
<circle cx="973.8" cy="448.5" r="6.0"/>
<circle cx="977.3" cy="442.9" r="6.0"/>
<circle cx="982.1" cy="445.7" r="6.0"/>
<circle cx="987.0" cy="448.5" r="6.0"/>
<circle cx="990.5" cy="451.3" r="6.0"/>
<circle cx="994.0" cy="454.1" r="6.0"/>
<circle cx="998.1" cy="448.9" r="6.0"/>
<circle cx="1002.3" cy="443.6" r="6.0"/>
<circle cx="1006.5" cy="447.5" r="6.0"/>
<circle cx="1010.7" cy="451.3" r="6.0"/>
<circle cx="1015.2" cy="451.6" r="6.0"/>
<circle cx="1019.8" cy="452.0" r="6.0"/>
<circle cx="1022.9" cy="450.2" r="6.0"/>
<circle cx="1026.0" cy="448.5" r="6.0"/>
<circle cx="1029.5" cy="442.6" r="6.0"/>
<circle cx="1033.0" cy="436.7" r="6.0"/>
<circle cx="1037.2" cy="439.1" r="6.0"/>
<circle cx="1041.4" cy="441.5" r="6.0"/>
<circle cx="1045.2" cy="439.4" r="6.0"/>
<circle cx="1049.0" cy="437.4" r="6.0"/>
<circle cx="1052.5" cy="440.7" r="6.0"/>
<circle cx="1056.7" cy="439.7" r="6.0"/>
<circle cx="1060.9" cy="438.6" r="6.0"/>
<circle cx="1065.1" cy="437.6" r="6.0"/>
<circle cx="1068.6" cy="435.8" r="6.0"/>
<circle cx="1072.0" cy="434.1" r="6.0"/>
<circle cx="1075.5" cy="432.3" r="6.0"/>
<circle cx="1079.7" cy="430.2" r="6.0"/>
<circle cx="1083.9" cy="428.2" r="6.0"/>
<circle cx="1087.4" cy="429.2" r="6.0"/>
<circle cx="1090.8" cy="430.3" r="6.0"/>
<circle cx="1094.3" cy="431.3" r="6.0"/>
<circle cx="1098.5" cy="430.6" r="6.0"/>
<circle cx="1102.6" cy="429.9" r="6.0"/>
<circle cx="1106.8" cy="429.2" r="6.0"/>
<circle cx="1110.5" cy="425.5" r="6.0"/>
<circle cx="1114.2" cy="421.9" r="6.0"/>
<circle cx="1118.9" cy="421.4" r="6.0"/>
<circle cx="1123.6" cy="420.9" r="6.0"/>
<circle cx="1127.8" cy="420.4" r="6.0"/>
<circle cx="1131.9" cy="419.8" r="6.0"/>
<circle cx="1136.1" cy="416.1" r="6.0"/>
<circle cx="1140.3" cy="412.5" r="6.0"/>
<circle cx="1143.9" cy="413.1" r="6.0"/>
<circle cx="1147.6" cy="413.6" r="6.0"/>
<circle cx="1150.7" cy="409.4" r="6.0"/>
<circle cx="1153.8" cy="405.2" r="6.0"/>
<circle cx="1157.4" cy="403.1" r="6.0"/>
<circle cx="1161.1" cy="401.0" r="6.0"/>
<circle cx="1163.2" cy="391.6" r="6.0"/>
<circle cx="1166.4" cy="384.3" r="6.0"/>
<circle cx="1171.6" cy="377.0" r="6.0"/>
<circle cx="1176.8" cy="366.6" r="6.0"/>
<circle cx="1182.0" cy="359.2" r="6.0"/>
<circle cx="1186.2" cy="360.8" r="6.0"/>
<circle cx="1190.4" cy="362.4" r="6.0"/>
<circle cx="1193.5" cy="350.9" r="6.0"/>
<circle cx="1197.7" cy="342.5" r="6.0"/>
<circle cx="1201.4" cy="326.6" r="6.0"/>
<circle cx="1204.5" cy="321.0" r="6.0"/>
<circle cx="1207.6" cy="315.3" r="6.0"/>
<circle cx="1212.0" cy="310.9" r="6.0"/>
<circle cx="1216.4" cy="306.5" r="6.0"/>
<circle cx="1220.8" cy="302.1" r="6.0"/>
<circle cx="1225.2" cy="297.8" r="6.0"/>
<circle cx="1228.9" cy="286.5" r="6.0"/>
<circle cx="1232.1" cy="283.4" r="6.0"/>
<circle cx="1235.2" cy="280.2" r="6.0"/>
<circle cx="1240.2" cy="282.1" r="6.0"/>
<circle cx="1245.2" cy="284.0" r="6.0"/>
<circle cx="1249.5" cy="266.5" r="6.0"/>
<circle cx="1252.1" cy="258.7" r="6.0"/>
<circle cx="1257.7" cy="259.5" r="6.0"/>
<circle cx="1261.5" cy="265.3" r="6.0"/>
<circle cx="1265.0" cy="263.0" r="6.0"/>
</g>
<path d="M242.3 476.0 L246.2 467.8 L249.6 458.5 L254.0 454.6 L257.9 445.8 L264.3 435.6 L268.1 417.3 L276.1 409.6 L280.4 379.4 L283.8 387.4 L287.9 347.6 L291.3 342.6 L295.4 333.4 L299.6 318.4 L303.8 319.2 L308.5 300.3 L314.4 290.3 L320.2 287.7 L323.6 273.5 L327.8 261.8 L332.8 266.0 L336.1 248.5 L340.3 247.6 L343.6 237.6 L347.8 219.2 L353.7 223.4 L358.5 224.5 L363.5 225.1 L367.7 216.8 L373.2 204.3 L375.2 201.2 L379.4 179.3 L384.2 167.1 L389.9 175.1 L393.0 178.8 L396.1 182.4 L401.4 179.3 L402.4 169.9 L405.5 168.3 L408.7 166.7 L411.8 169.3 L414.9 171.9 L418.0 174.0 L421.2 176.1 L425.4 182.4 L427.5 200.2 L432.7 194.9 L436.4 197.0 L440.0 199.1 L443.2 207.5 L446.9 207.5 L450.5 207.5 L453.6 216.9 L456.8 220.1 L459.9 223.2 L463.5 225.2 L467.2 227.3 L471.4 232.6 L474.5 239.9 L479.7 243.0 L482.9 249.3 L487.1 250.3 L491.2 240.9 L494.4 239.9 L497.5 238.8 L502.7 247.2 L505.9 257.7 L509.0 268.1 L512.6 269.6 L516.3 271.2 L520.5 279.6 L523.6 282.8 L526.8 285.9 L530.5 288.7 L534.2 291.5 L538.4 304.0 L543.6 308.2 L546.8 309.8 L549.9 311.4 L554.0 321.8 L557.2 335.4 L562.4 341.7 L565.5 352.1 L569.7 352.6 L573.9 353.2 L577.0 361.5 L581.2 369.9 L585.4 370.9 L589.6 372.0 L594.8 379.3 L598.0 383.0 L601.1 386.6 L604.2 390.2 L607.3 393.9 L610.5 397.5 L613.6 401.2 L616.8 403.9 L619.9 406.5 L623.0 408.6 L626.2 410.6 L630.9 408.6 L635.6 406.5 L639.2 409.6 L642.9 412.7 L646.0 415.4 L649.1 418.0 L653.3 418.0 L657.5 418.0 L662.2 418.0 L666.9 418.0 L670.5 420.1 L674.2 422.1 L677.4 420.6 L680.5 419.0 L685.7 422.1 L688.5 415.0 L691.0 408.6 L695.1 409.6 L699.3 410.6 L703.5 408.6 L707.7 406.5 L710.9 403.9 L714.0 401.2 L718.0 398.0 L723.4 392.6 L728.4 391.4 L733.4 390.1 L737.1 392.2 L740.9 394.3 L743.8 389.7 L746.8 385.1 L750.1 383.4 L753.5 381.7 L756.9 380.9 L760.2 380.1 L762.7 390.1 L766.3 389.5 L769.9 389.0 L773.5 388.4 L777.7 390.9 L781.9 393.4 L787.7 398.4 L791.3 396.5 L795.0 394.5 L798.6 392.6 L803.6 401.0 L807.8 404.8 L812.0 408.5 L817.0 405.6 L822.0 402.6 L827.0 411.8 L830.4 406.8 L833.7 401.8 L837.9 404.3 L842.1 406.8 L845.5 411.8 L848.8 416.8 L853.8 418.5 L858.0 415.6 L862.1 412.6 L866.3 413.9 L870.5 415.2 L873.0 420.0 L875.5 425.2 L879.7 428.5 L885.3 420.0 L890.9 425.5 L894.4 421.7 L897.9 417.9 L901.7 424.5 L905.5 431.1 L910.4 424.1 L913.9 423.1 L917.4 422.0 L922.9 429.7 L928.5 423.4 L932.0 426.9 L935.5 430.4 L941.1 422.0 L946.6 431.8 L950.1 430.1 L953.6 428.3 L959.2 434.6 L961.9 443.6 L967.5 438.1 L972.4 432.1 L977.3 426.2 L981.5 427.6 L985.6 429.0 L989.1 433.2 L992.6 437.4 L996.8 427.6 L1001.6 429.0 L1006.5 430.4 L1010.7 432.5 L1014.9 434.6 L1018.4 434.6 L1021.9 434.6 L1026.0 424.8 L1030.2 417.9 L1035.8 415.8 L1039.2 418.9 L1042.7 422.0 L1045.8 419.9 L1049.0 417.9 L1051.5 421.9 L1056.2 418.2 L1060.9 414.6 L1064.4 413.9 L1067.8 413.2 L1071.3 412.5 L1075.5 411.4 L1079.7 410.4 L1083.9 404.2 L1087.4 405.2 L1090.8 406.3 L1094.3 407.3 L1098.5 408.9 L1102.7 410.4 L1107.4 407.8 L1112.1 405.2 L1115.2 398.9 L1119.4 397.9 L1123.6 396.8 L1127.8 396.8 L1131.9 396.8 L1135.1 393.1 L1138.2 389.5 L1143.4 381.2 L1146.6 382.2 L1149.7 383.3 L1152.8 378.6 L1155.9 373.9 L1161.1 367.6 L1164.3 359.2 L1167.4 349.8 L1171.6 341.5 L1174.6 334.6 L1177.6 327.8 L1182.6 317.8 L1186.9 312.1 L1191.3 306.5 L1194.4 300.9 L1197.6 295.3 L1202.3 275.3 L1206.4 266.4 L1210.3 263.7 L1214.0 258.9 L1217.4 256.7 L1220.8 254.5 L1225.3 236.6 L1229.5 226.1 L1233.8 215.7 L1238.1 215.0 L1242.5 214.3 L1246.8 213.6 L1249.5 202.2 L1255.2 195.0 L1260.5 191.8 L1265.2 188.6" fill="none" stroke="#858585" stroke-width="2" stroke-linejoin="round"/>
<g fill="#858585">
<circle cx="242.3" cy="476.0" r="6.0"/>
<circle cx="246.2" cy="467.8" r="6.0"/>
<circle cx="249.6" cy="458.5" r="6.0"/>
<circle cx="254.0" cy="454.6" r="6.0"/>
<circle cx="257.9" cy="445.8" r="6.0"/>
<circle cx="264.3" cy="435.6" r="6.0"/>
<circle cx="268.1" cy="417.3" r="6.0"/>
<circle cx="276.1" cy="409.6" r="6.0"/>
<circle cx="280.4" cy="379.4" r="6.0"/>
<circle cx="283.8" cy="387.4" r="6.0"/>
<circle cx="287.9" cy="347.6" r="6.0"/>
<circle cx="291.3" cy="342.6" r="6.0"/>
<circle cx="295.4" cy="333.4" r="6.0"/>
<circle cx="299.6" cy="318.4" r="6.0"/>
<circle cx="303.8" cy="319.2" r="6.0"/>
<circle cx="308.5" cy="300.3" r="6.0"/>
<circle cx="314.4" cy="290.3" r="6.0"/>
<circle cx="320.2" cy="287.7" r="6.0"/>
<circle cx="323.6" cy="273.5" r="6.0"/>
<circle cx="327.8" cy="261.8" r="6.0"/>
<circle cx="332.8" cy="266.0" r="6.0"/>
<circle cx="336.1" cy="248.5" r="6.0"/>
<circle cx="340.3" cy="247.6" r="6.0"/>
<circle cx="343.6" cy="237.6" r="6.0"/>
<circle cx="347.8" cy="219.2" r="6.0"/>
<circle cx="353.7" cy="223.4" r="6.0"/>
<circle cx="358.5" cy="224.5" r="6.0"/>
<circle cx="363.5" cy="225.1" r="6.0"/>
<circle cx="367.7" cy="216.8" r="6.0"/>
<circle cx="373.2" cy="204.3" r="6.0"/>
<circle cx="375.2" cy="201.2" r="6.0"/>
<circle cx="379.4" cy="179.3" r="6.0"/>
<circle cx="384.2" cy="167.1" r="6.0"/>
<circle cx="389.9" cy="175.1" r="6.0"/>
<circle cx="393.0" cy="178.8" r="6.0"/>
<circle cx="396.1" cy="182.4" r="6.0"/>
<circle cx="401.4" cy="179.3" r="6.0"/>
<circle cx="402.4" cy="169.9" r="6.0"/>
<circle cx="405.5" cy="168.3" r="6.0"/>
<circle cx="408.7" cy="166.7" r="6.0"/>
<circle cx="411.8" cy="169.3" r="6.0"/>
<circle cx="414.9" cy="171.9" r="6.0"/>
<circle cx="418.0" cy="174.0" r="6.0"/>
<circle cx="421.2" cy="176.1" r="6.0"/>
<circle cx="425.4" cy="182.4" r="6.0"/>
<circle cx="427.5" cy="200.2" r="6.0"/>
<circle cx="432.7" cy="194.9" r="6.0"/>
<circle cx="436.4" cy="197.0" r="6.0"/>
<circle cx="440.0" cy="199.1" r="6.0"/>
<circle cx="443.2" cy="207.5" r="6.0"/>
<circle cx="446.9" cy="207.5" r="6.0"/>
<circle cx="450.5" cy="207.5" r="6.0"/>
<circle cx="453.6" cy="216.9" r="6.0"/>
<circle cx="456.8" cy="220.1" r="6.0"/>
<circle cx="459.9" cy="223.2" r="6.0"/>
<circle cx="463.5" cy="225.2" r="6.0"/>
<circle cx="467.2" cy="227.3" r="6.0"/>
<circle cx="471.4" cy="232.6" r="6.0"/>
<circle cx="474.5" cy="239.9" r="6.0"/>
<circle cx="479.7" cy="243.0" r="6.0"/>
<circle cx="482.9" cy="249.3" r="6.0"/>
<circle cx="487.1" cy="250.3" r="6.0"/>
<circle cx="491.2" cy="240.9" r="6.0"/>
<circle cx="494.4" cy="239.9" r="6.0"/>
<circle cx="497.5" cy="238.8" r="6.0"/>
<circle cx="502.7" cy="247.2" r="6.0"/>
<circle cx="505.9" cy="257.7" r="6.0"/>
<circle cx="509.0" cy="268.1" r="6.0"/>
<circle cx="512.6" cy="269.6" r="6.0"/>
<circle cx="516.3" cy="271.2" r="6.0"/>
<circle cx="520.5" cy="279.6" r="6.0"/>
<circle cx="523.6" cy="282.8" r="6.0"/>
<circle cx="526.8" cy="285.9" r="6.0"/>
<circle cx="530.5" cy="288.7" r="6.0"/>
<circle cx="534.2" cy="291.5" r="6.0"/>
<circle cx="538.4" cy="304.0" r="6.0"/>
<circle cx="543.6" cy="308.2" r="6.0"/>
<circle cx="546.8" cy="309.8" r="6.0"/>
<circle cx="549.9" cy="311.4" r="6.0"/>
<circle cx="554.0" cy="321.8" r="6.0"/>
<circle cx="557.2" cy="335.4" r="6.0"/>
<circle cx="562.4" cy="341.7" r="6.0"/>
<circle cx="565.5" cy="352.1" r="6.0"/>
<circle cx="569.7" cy="352.6" r="6.0"/>
<circle cx="573.9" cy="353.2" r="6.0"/>
<circle cx="577.0" cy="361.5" r="6.0"/>
<circle cx="581.2" cy="369.9" r="6.0"/>
<circle cx="585.4" cy="370.9" r="6.0"/>
<circle cx="589.6" cy="372.0" r="6.0"/>
<circle cx="594.8" cy="379.3" r="6.0"/>
<circle cx="598.0" cy="383.0" r="6.0"/>
<circle cx="601.1" cy="386.6" r="6.0"/>
<circle cx="604.2" cy="390.2" r="6.0"/>
<circle cx="607.3" cy="393.9" r="6.0"/>
<circle cx="610.5" cy="397.5" r="6.0"/>
<circle cx="613.6" cy="401.2" r="6.0"/>
<circle cx="616.8" cy="403.9" r="6.0"/>
<circle cx="619.9" cy="406.5" r="6.0"/>
<circle cx="623.0" cy="408.6" r="6.0"/>
<circle cx="626.2" cy="410.6" r="6.0"/>
<circle cx="630.9" cy="408.6" r="6.0"/>
<circle cx="635.6" cy="406.5" r="6.0"/>
<circle cx="639.2" cy="409.6" r="6.0"/>
<circle cx="642.9" cy="412.7" r="6.0"/>
<circle cx="646.0" cy="415.4" r="6.0"/>
<circle cx="649.1" cy="418.0" r="6.0"/>
<circle cx="653.3" cy="418.0" r="6.0"/>
<circle cx="657.5" cy="418.0" r="6.0"/>
<circle cx="662.2" cy="418.0" r="6.0"/>
<circle cx="666.9" cy="418.0" r="6.0"/>
<circle cx="670.5" cy="420.1" r="6.0"/>
<circle cx="674.2" cy="422.1" r="6.0"/>
<circle cx="677.4" cy="420.6" r="6.0"/>
<circle cx="680.5" cy="419.0" r="6.0"/>
<circle cx="685.7" cy="422.1" r="6.0"/>
<circle cx="688.5" cy="415.0" r="6.0"/>
<circle cx="691.0" cy="408.6" r="6.0"/>
<circle cx="695.1" cy="409.6" r="6.0"/>
<circle cx="699.3" cy="410.6" r="6.0"/>
<circle cx="703.5" cy="408.6" r="6.0"/>
<circle cx="707.7" cy="406.5" r="6.0"/>
<circle cx="710.9" cy="403.9" r="6.0"/>
<circle cx="714.0" cy="401.2" r="6.0"/>
<circle cx="718.0" cy="398.0" r="6.0"/>
<circle cx="723.4" cy="392.6" r="6.0"/>
<circle cx="728.4" cy="391.4" r="6.0"/>
<circle cx="733.4" cy="390.1" r="6.0"/>
<circle cx="737.1" cy="392.2" r="6.0"/>
<circle cx="740.9" cy="394.3" r="6.0"/>
<circle cx="743.8" cy="389.7" r="6.0"/>
<circle cx="746.8" cy="385.1" r="6.0"/>
<circle cx="750.1" cy="383.4" r="6.0"/>
<circle cx="753.5" cy="381.7" r="6.0"/>
<circle cx="756.9" cy="380.9" r="6.0"/>
<circle cx="760.2" cy="380.1" r="6.0"/>
<circle cx="762.7" cy="390.1" r="6.0"/>
<circle cx="766.3" cy="389.5" r="6.0"/>
<circle cx="769.9" cy="389.0" r="6.0"/>
<circle cx="773.5" cy="388.4" r="6.0"/>
<circle cx="777.7" cy="390.9" r="6.0"/>
<circle cx="781.9" cy="393.4" r="6.0"/>
<circle cx="787.7" cy="398.4" r="6.0"/>
<circle cx="791.3" cy="396.5" r="6.0"/>
<circle cx="795.0" cy="394.5" r="6.0"/>
<circle cx="798.6" cy="392.6" r="6.0"/>
<circle cx="803.6" cy="401.0" r="6.0"/>
<circle cx="807.8" cy="404.8" r="6.0"/>
<circle cx="812.0" cy="408.5" r="6.0"/>
<circle cx="817.0" cy="405.6" r="6.0"/>
<circle cx="822.0" cy="402.6" r="6.0"/>
<circle cx="827.0" cy="411.8" r="6.0"/>
<circle cx="830.4" cy="406.8" r="6.0"/>
<circle cx="833.7" cy="401.8" r="6.0"/>
<circle cx="837.9" cy="404.3" r="6.0"/>
<circle cx="842.1" cy="406.8" r="6.0"/>
<circle cx="845.5" cy="411.8" r="6.0"/>
<circle cx="848.8" cy="416.8" r="6.0"/>
<circle cx="853.8" cy="418.5" r="6.0"/>
<circle cx="858.0" cy="415.6" r="6.0"/>
<circle cx="862.1" cy="412.6" r="6.0"/>
<circle cx="866.3" cy="413.9" r="6.0"/>
<circle cx="870.5" cy="415.2" r="6.0"/>
<circle cx="873.0" cy="420.0" r="6.0"/>
<circle cx="875.5" cy="425.2" r="6.0"/>
<circle cx="879.7" cy="428.5" r="6.0"/>
<circle cx="885.3" cy="420.0" r="6.0"/>
<circle cx="890.9" cy="425.5" r="6.0"/>
<circle cx="894.4" cy="421.7" r="6.0"/>
<circle cx="897.9" cy="417.9" r="6.0"/>
<circle cx="901.7" cy="424.5" r="6.0"/>
<circle cx="905.5" cy="431.1" r="6.0"/>
<circle cx="910.4" cy="424.1" r="6.0"/>
<circle cx="913.9" cy="423.1" r="6.0"/>
<circle cx="917.4" cy="422.0" r="6.0"/>
<circle cx="922.9" cy="429.7" r="6.0"/>
<circle cx="928.5" cy="423.4" r="6.0"/>
<circle cx="932.0" cy="426.9" r="6.0"/>
<circle cx="935.5" cy="430.4" r="6.0"/>
<circle cx="941.1" cy="422.0" r="6.0"/>
<circle cx="946.6" cy="431.8" r="6.0"/>
<circle cx="950.1" cy="430.1" r="6.0"/>
<circle cx="953.6" cy="428.3" r="6.0"/>
<circle cx="959.2" cy="434.6" r="6.0"/>
<circle cx="961.9" cy="443.6" r="6.0"/>
<circle cx="967.5" cy="438.1" r="6.0"/>
<circle cx="972.4" cy="432.1" r="6.0"/>
<circle cx="977.3" cy="426.2" r="6.0"/>
<circle cx="981.5" cy="427.6" r="6.0"/>
<circle cx="985.6" cy="429.0" r="6.0"/>
<circle cx="989.1" cy="433.2" r="6.0"/>
<circle cx="992.6" cy="437.4" r="6.0"/>
<circle cx="996.8" cy="427.6" r="6.0"/>
<circle cx="1001.6" cy="429.0" r="6.0"/>
<circle cx="1006.5" cy="430.4" r="6.0"/>
<circle cx="1010.7" cy="432.5" r="6.0"/>
<circle cx="1014.9" cy="434.6" r="6.0"/>
<circle cx="1018.4" cy="434.6" r="6.0"/>
<circle cx="1021.9" cy="434.6" r="6.0"/>
<circle cx="1026.0" cy="424.8" r="6.0"/>
<circle cx="1030.2" cy="417.9" r="6.0"/>
<circle cx="1035.8" cy="415.8" r="6.0"/>
<circle cx="1039.2" cy="418.9" r="6.0"/>
<circle cx="1042.7" cy="422.0" r="6.0"/>
<circle cx="1045.8" cy="419.9" r="6.0"/>
<circle cx="1049.0" cy="417.9" r="6.0"/>
<circle cx="1051.5" cy="421.9" r="6.0"/>
<circle cx="1056.2" cy="418.2" r="6.0"/>
<circle cx="1060.9" cy="414.6" r="6.0"/>
<circle cx="1064.4" cy="413.9" r="6.0"/>
<circle cx="1067.8" cy="413.2" r="6.0"/>
<circle cx="1071.3" cy="412.5" r="6.0"/>
<circle cx="1075.5" cy="411.4" r="6.0"/>
<circle cx="1079.7" cy="410.4" r="6.0"/>
<circle cx="1083.9" cy="404.2" r="6.0"/>
<circle cx="1087.4" cy="405.2" r="6.0"/>
<circle cx="1090.8" cy="406.3" r="6.0"/>
<circle cx="1094.3" cy="407.3" r="6.0"/>
<circle cx="1098.5" cy="408.9" r="6.0"/>
<circle cx="1102.7" cy="410.4" r="6.0"/>
<circle cx="1107.4" cy="407.8" r="6.0"/>
<circle cx="1112.1" cy="405.2" r="6.0"/>
<circle cx="1115.2" cy="398.9" r="6.0"/>
<circle cx="1119.4" cy="397.9" r="6.0"/>
<circle cx="1123.6" cy="396.8" r="6.0"/>
<circle cx="1127.8" cy="396.8" r="6.0"/>
<circle cx="1131.9" cy="396.8" r="6.0"/>
<circle cx="1135.1" cy="393.1" r="6.0"/>
<circle cx="1138.2" cy="389.5" r="6.0"/>
<circle cx="1143.4" cy="381.2" r="6.0"/>
<circle cx="1146.6" cy="382.2" r="6.0"/>
<circle cx="1149.7" cy="383.3" r="6.0"/>
<circle cx="1152.8" cy="378.6" r="6.0"/>
<circle cx="1155.9" cy="373.9" r="6.0"/>
<circle cx="1161.1" cy="367.6" r="6.0"/>
<circle cx="1164.3" cy="359.2" r="6.0"/>
<circle cx="1167.4" cy="349.8" r="6.0"/>
<circle cx="1171.6" cy="341.5" r="6.0"/>
<circle cx="1174.6" cy="334.6" r="6.0"/>
<circle cx="1177.6" cy="327.8" r="6.0"/>
<circle cx="1182.6" cy="317.8" r="6.0"/>
<circle cx="1186.9" cy="312.1" r="6.0"/>
<circle cx="1191.3" cy="306.5" r="6.0"/>
<circle cx="1194.4" cy="300.9" r="6.0"/>
<circle cx="1197.6" cy="295.3" r="6.0"/>
<circle cx="1202.3" cy="275.3" r="6.0"/>
<circle cx="1206.4" cy="266.4" r="6.0"/>
<circle cx="1210.3" cy="263.7" r="6.0"/>
<circle cx="1214.0" cy="258.9" r="6.0"/>
<circle cx="1217.4" cy="256.7" r="6.0"/>
<circle cx="1220.8" cy="254.5" r="6.0"/>
<circle cx="1225.3" cy="236.6" r="6.0"/>
<circle cx="1229.5" cy="226.1" r="6.0"/>
<circle cx="1233.8" cy="215.7" r="6.0"/>
<circle cx="1238.1" cy="215.0" r="6.0"/>
<circle cx="1242.5" cy="214.3" r="6.0"/>
<circle cx="1246.8" cy="213.6" r="6.0"/>
<circle cx="1249.5" cy="202.2" r="6.0"/>
<circle cx="1255.2" cy="195.0" r="6.0"/>
<circle cx="1260.5" cy="191.8" r="6.0"/>
<circle cx="1265.2" cy="188.6" r="6.0"/>
</g>

<g>
<path d="M1125 173 L1305 173 L1305 249 L1277.5 249 L1265 260.5 L1252.5 249 L1125 249 Z" fill="none" stroke="#000" stroke-opacity="0.03" stroke-width="6" transform="translate(2.5,2.5)"/>
<path d="M1125 173 L1305 173 L1305 249 L1277.5 249 L1265 260.5 L1252.5 249 L1125 249 Z" fill="none" stroke="#000" stroke-opacity="0.05" stroke-width="4" transform="translate(2.5,2.5)"/>
<path d="M1125 173 L1305 173 L1305 249 L1277.5 249 L1265 260.5 L1252.5 249 L1125 249 Z" fill="none" stroke="#000" stroke-opacity="0.38" stroke-width="2" transform="translate(2.5,2.5)"/>
<path d="M1125 173 L1305 173 L1305 249 L1277.5 249 L1265 260.5 L1252.5 249 L1125 249 Z" fill="rgba(255,255,255,0.8)" stroke="#f4c1bf" stroke-width="4"/>
<g font-family="Liberation Sans, sans-serif" font-size="20" fill="#000">
<text x="1181.5" y="199.9" letter-spacing="1">12/4/20</text>
<text x="1143" y="229.8" letter-spacing="0.3">Acute Beds:1.2k</text>
</g>
</g>

<circle cx="1331.8" cy="14.4" r="16.7" fill="#f7f7f7" stroke="#999999" stroke-width="2"/>
<g stroke="#474747" stroke-width="1.6" fill="none">
<path d="M1324.2 11 V5.8 H1329.6 M1324.2 5.8 L1330 11.6"/>
<path d="M1340.6 11 V5.8 H1335.2 M1340.6 5.8 L1334.8 11.6"/>
<path d="M1324.2 16.8 V22 H1329.6 M1324.2 22 L1330 16.2"/>
<path d="M1340.6 16.8 V22 H1335.2 M1340.6 22 L1334.8 16.2"/>
</g>

<path d="M44 687 L55.3 675.5 L55.3 699 Z" fill="none" stroke="#404040" stroke-width="2" stroke-linejoin="miter"/>
<path d="M1288.8 687 L1277.3 675.5 L1277.3 699 Z" fill="none" stroke="#404040" stroke-width="2" stroke-linejoin="miter"/>


</svg>
</body></html>
